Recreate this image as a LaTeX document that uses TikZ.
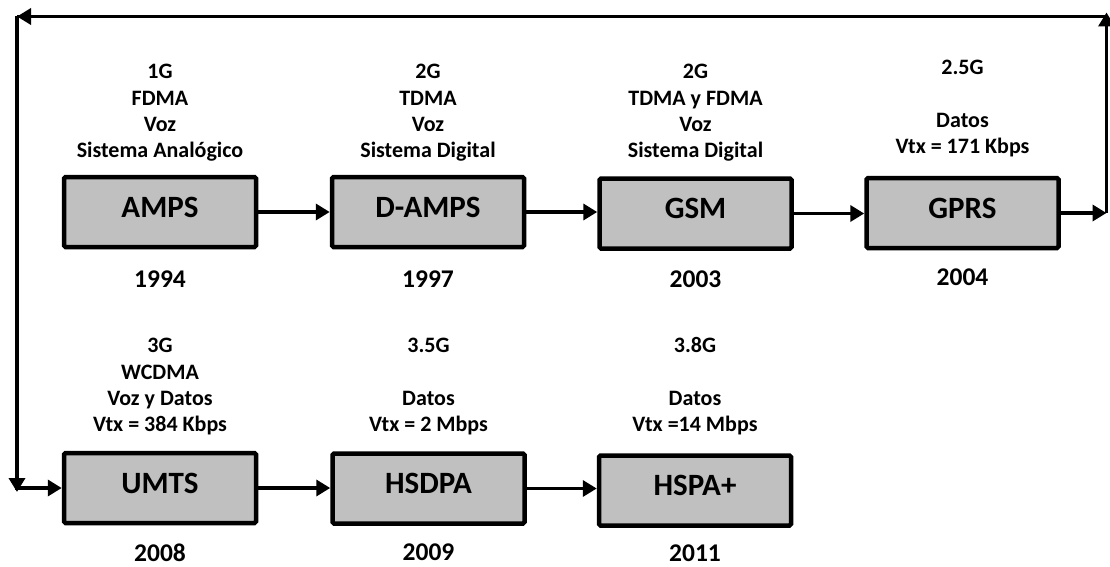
\documentclass[tikz,border=0pt]{standalone}
\usepackage{fontspec}
\setmainfont{Carlito}
\usetikzlibrary{arrows.meta}
\definecolor{boxgray}{RGB}{192,192,192}
\begin{document}
\begin{tikzpicture}[x=1pt,y=-1pt,
  techbox/.style={draw=black, line width=4.5pt, fill=boxgray, rounded corners=1.5pt,
    minimum width=192pt, minimum height=70pt, inner sep=0pt,
    text height=20pt, text depth=10pt,
    font=\fontsize{31}{36}\selectfont\bfseries},
  infolabel/.style={anchor=north, align=center, inner sep=0pt,
    font=\fontsize{22}{26.3}\selectfont\bfseries},
  yearlabel/.style={anchor=base, inner sep=0pt,
    font=\fontsize{25.5}{30}\selectfont\bfseries},
  flow/.style={line width=3.5pt, -{Triangle[length=14pt,width=16pt]}},
  link/.style={line width=3.5pt}
]
\useasboundingbox (0,0) rectangle (1110,567);

% first generation row
\node[techbox] (amps)  at (160,212)   {AMPS};
\node[techbox] (damps) at (428,212)   {D-AMPS};
\node[techbox] (gsm)   at (695.5,213.5) {GSM};
\node[techbox] (gprs)  at (962.5,213) {GPRS};

% later generation row
\node[techbox] (umts)  at (160,488)   {UMTS};
\node[techbox] (hsdpa) at (428.5,488.5) {HSDPA};
\node[techbox] (hspap) at (695,490.5) {HSPA+};

% descriptions above each box (first baseline = north + 16)
\node[infolabel] (l-amps)  at (160,62.5)   {\rule{0pt}{16pt}1G\\FDMA\\Voz\\Sistema Analógico};
\node[infolabel] (l-damps) at (428,62.5)   {\rule{0pt}{16pt}2G\\TDMA\\Voz\\Sistema Digital};
\node[infolabel] (l-gsm)   at (695.5,62.5) {\rule{0pt}{16pt}2G\\TDMA y FDMA\\Voz\\Sistema Digital};
\node[infolabel] (l-gprs)  at (962.5,58.5) {\rule{0pt}{16pt}2.5G\\ \\Datos\\Vtx = 171 Kbps};

\node[infolabel] (l-umts)  at (160,336.5)   {\rule{0pt}{16pt}3G\\WCDMA\\Voz y Datos\\Vtx = 384 Kbps};
\node[infolabel] (l-hsdpa) at (428.5,336.5) {\rule{0pt}{16pt}3.5G\\ \\Datos\\Vtx = 2 Mbps};
\node[infolabel] (l-hspap) at (695,336.5)   {\rule{0pt}{16pt}3.8G\\ \\Datos\\Vtx =14 Mbps};

% years below each box
\node[yearlabel] (y-amps)  at (160,287)   {1994};
\node[yearlabel] (y-damps) at (428,287)   {1997};
\node[yearlabel] (y-gsm)   at (695.5,287) {2003};
\node[yearlabel] (y-gprs)  at (962.5,285) {2004};
\node[yearlabel] (y-umts)  at (160,561)   {2008};
\node[yearlabel] (y-hsdpa) at (428.5,560) {2009};
\node[yearlabel] (y-hspap) at (695,561.5) {2011};

% arrows along each row
\draw[flow] (amps) -- (damps);
\draw[flow] (damps) -- (gsm.west |- damps);
\draw[flow] (gsm) -- (gprs.west |- gsm);
\draw[flow] (umts) -- (hsdpa.west |- umts);
\draw[flow] (hsdpa) -- (hspap.west |- hsdpa);

% return loop from GPRS back to UMTS
\coordinate (r-low)  at (1106.5,213);
\coordinate (r-top)  at (1106.5,16.5);
\coordinate (l-top)  at (17,16.5);
\coordinate (l-low)  at (17,488);
\draw[flow] (gprs.east) -- (r-low);
\draw[flow] (r-low) -- ([yshift=4pt]r-top);
\draw[link] ([xshift=1.75pt]r-top) -- (l-top);
\draw[flow] (r-top) -- (l-top);
\draw[link] ([yshift=-1.75pt]l-top) -- (l-low);
\draw[flow] (l-top) -- ([yshift=-4pt]l-low);
\draw[link] ([xshift=-1.75pt]l-low) -- (l-low);
\draw[flow] (l-low) -- (umts.west);
\end{tikzpicture}
\end{document}
